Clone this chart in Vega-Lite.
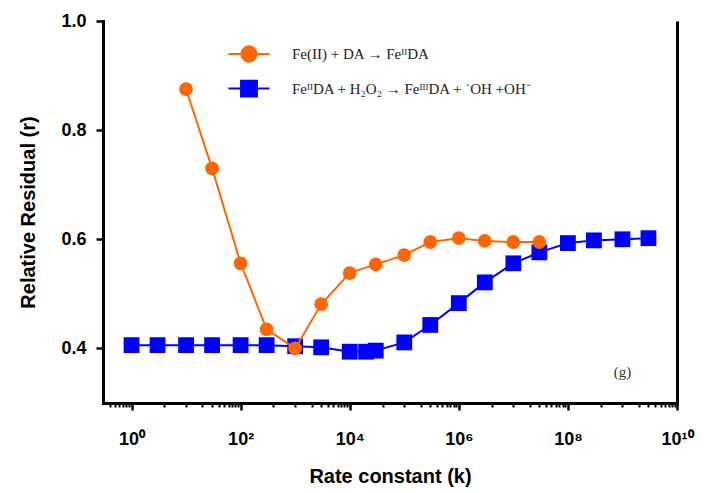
{
  "$schema": "https://vega.github.io/schema/vega-lite/v6.json",
  "width": 574,
  "height": 382,
  "autosize": {"type": "none"},
  "padding": {"left": 103, "top": 21, "right": 30, "bottom": 90},
  "background": "white",
  "config": {"view": {"stroke": null}, "axis": {"grid": false}},
  "data": {
    "values": [
      {"series": "Fe(II) + DA → FeᴵᴵDA", "k": 10, "r": 0.875},
      {"series": "Fe(II) + DA → FeᴵᴵDA", "k": 30, "r": 0.730},
      {"series": "Fe(II) + DA → FeᴵᴵDA", "k": 100, "r": 0.556},
      {"series": "Fe(II) + DA → FeᴵᴵDA", "k": 300, "r": 0.435},
      {"series": "Fe(II) + DA → FeᴵᴵDA", "k": 1000, "r": 0.400},
      {"series": "Fe(II) + DA → FeᴵᴵDA", "k": 3000, "r": 0.481},
      {"series": "Fe(II) + DA → FeᴵᴵDA", "k": 10000, "r": 0.538},
      {"series": "Fe(II) + DA → FeᴵᴵDA", "k": 30000, "r": 0.554},
      {"series": "Fe(II) + DA → FeᴵᴵDA", "k": 100000, "r": 0.571},
      {"series": "Fe(II) + DA → FeᴵᴵDA", "k": 300000, "r": 0.595},
      {"series": "Fe(II) + DA → FeᴵᴵDA", "k": 1000000, "r": 0.602},
      {"series": "Fe(II) + DA → FeᴵᴵDA", "k": 3000000, "r": 0.597},
      {"series": "Fe(II) + DA → FeᴵᴵDA", "k": 10000000, "r": 0.595},
      {"series": "Fe(II) + DA → FeᴵᴵDA", "k": 30000000, "r": 0.595},
      {"series": "FeᴵᴵDA + H₂O₂ → FeᴵᴵᴵDA + ˙OH +OH⁻", "k": 1, "r": 0.406},
      {"series": "FeᴵᴵDA + H₂O₂ → FeᴵᴵᴵDA + ˙OH +OH⁻", "k": 3, "r": 0.406},
      {"series": "FeᴵᴵDA + H₂O₂ → FeᴵᴵᴵDA + ˙OH +OH⁻", "k": 10, "r": 0.406},
      {"series": "FeᴵᴵDA + H₂O₂ → FeᴵᴵᴵDA + ˙OH +OH⁻", "k": 30, "r": 0.406},
      {"series": "FeᴵᴵDA + H₂O₂ → FeᴵᴵᴵDA + ˙OH +OH⁻", "k": 100, "r": 0.406},
      {"series": "FeᴵᴵDA + H₂O₂ → FeᴵᴵᴵDA + ˙OH +OH⁻", "k": 300, "r": 0.406},
      {"series": "FeᴵᴵDA + H₂O₂ → FeᴵᴵᴵDA + ˙OH +OH⁻", "k": 1000, "r": 0.404},
      {"series": "FeᴵᴵDA + H₂O₂ → FeᴵᴵᴵDA + ˙OH +OH⁻", "k": 3000, "r": 0.402},
      {"series": "FeᴵᴵDA + H₂O₂ → FeᴵᴵᴵDA + ˙OH +OH⁻", "k": 10000, "r": 0.394},
      {"series": "FeᴵᴵDA + H₂O₂ → FeᴵᴵᴵDA + ˙OH +OH⁻", "k": 20000, "r": 0.394},
      {"series": "FeᴵᴵDA + H₂O₂ → FeᴵᴵᴵDA + ˙OH +OH⁻", "k": 30000, "r": 0.396},
      {"series": "FeᴵᴵDA + H₂O₂ → FeᴵᴵᴵDA + ˙OH +OH⁻", "k": 100000, "r": 0.411},
      {"series": "FeᴵᴵDA + H₂O₂ → FeᴵᴵᴵDA + ˙OH +OH⁻", "k": 300000, "r": 0.443},
      {"series": "FeᴵᴵDA + H₂O₂ → FeᴵᴵᴵDA + ˙OH +OH⁻", "k": 1000000, "r": 0.483},
      {"series": "FeᴵᴵDA + H₂O₂ → FeᴵᴵᴵDA + ˙OH +OH⁻", "k": 3000000, "r": 0.521},
      {"series": "FeᴵᴵDA + H₂O₂ → FeᴵᴵᴵDA + ˙OH +OH⁻", "k": 10000000, "r": 0.556},
      {"series": "FeᴵᴵDA + H₂O₂ → FeᴵᴵᴵDA + ˙OH +OH⁻", "k": 30000000, "r": 0.576},
      {"series": "FeᴵᴵDA + H₂O₂ → FeᴵᴵᴵDA + ˙OH +OH⁻", "k": 100000000, "r": 0.593},
      {"series": "FeᴵᴵDA + H₂O₂ → FeᴵᴵᴵDA + ˙OH +OH⁻", "k": 300000000, "r": 0.598},
      {"series": "FeᴵᴵDA + H₂O₂ → FeᴵᴵᴵDA + ˙OH +OH⁻", "k": 1000000000, "r": 0.600},
      {"series": "FeᴵᴵDA + H₂O₂ → FeᴵᴵᴵDA + ˙OH +OH⁻", "k": 3000000000, "r": 0.602}
    ]
  },
  "encoding": {
    "x": {"field": "k", "type": "quantitative", "scale": {"type": "log", "domain": [0.3, 10000000000], "nice": false}, "axis": null},
    "y": {"field": "r", "type": "quantitative", "scale": {"domain": [0.3, 1.0], "nice": false, "zero": false}, "axis": null}
  },
  "resolve": {"axis": {"x": "independent", "y": "independent"}},
  "layer": [
    {
      "transform": [{"filter": "datum.series != 'Fe(II) + DA → FeᴵᴵDA'"}],
      "mark": {"type": "line", "color": "#0000FF", "strokeWidth": 2},
      "encoding": {
        "x": {"field": "k", "type": "quantitative", "scale": {"type": "log", "domain": [0.3, 10000000000], "nice": false},
          "axis": {"orient": "bottom", "values": [1, 100, 10000, 1000000, 100000000, 10000000000],
            "labelExpr": "'10' + ['⁰','¹','²','³','⁴','⁵','⁶','⁷','⁸','⁹','¹⁰'][round(log(datum.value)/LN10)]",
            "title": "Rate constant (k)", "domainWidth": 3, "domainColor": "black", "domainCap": "square",
            "tickColor": "black", "tickWidth": 2.5, "tickSize": 7,
            "labelFont": "Liberation Sans", "labelFontWeight": "bold", "labelFontSize": 18, "labelColor": "black", "labelPadding": 20, "labelFlush": false,
            "titleFont": "Liberation Sans", "titleFontWeight": "bold", "titleFontSize": 20, "titleColor": "black", "titlePadding": 18}},
        "y": {"field": "r", "type": "quantitative", "scale": {"domain": [0.3, 1.0], "nice": false, "zero": false},
          "axis": {"orient": "left", "values": [0.4, 0.6, 0.8, 1.0], "format": ".1f", "title": "Relative Residual (r)",
            "domainWidth": 3, "domainColor": "black", "domainCap": "square",
            "tickColor": "black", "tickWidth": 2.5, "tickSize": 7,
            "labelFont": "Liberation Sans", "labelFontWeight": "bold", "labelFontSize": 18, "labelColor": "black", "labelPadding": 10,
            "titleFont": "Liberation Sans", "titleFontWeight": "bold", "titleFontSize": 20, "titleColor": "black", "titlePadding": 22}}
      }
    },
    {
      "transform": [{"filter": "datum.series != 'Fe(II) + DA → FeᴵᴵDA'"}],
      "mark": {"type": "point", "shape": "square", "filled": true, "color": "#0000FF", "opacity": 1, "size": 250},
      "encoding": {
        "x": {"field": "k", "type": "quantitative", "scale": {"type": "log", "domain": [0.3, 10000000000], "nice": false},
          "axis": {"orient": "bottom", "values": [0.4, 0.5, 0.6, 0.7, 0.8, 0.9, 4, 10, 20, 30, 40, 50, 60, 70, 80, 90, 400, 1000, 2000, 3000, 4000, 5000, 6000, 7000, 8000, 9000, 40000, 100000, 200000, 300000, 400000, 500000, 600000, 700000, 800000, 900000, 4000000, 10000000, 20000000, 30000000, 40000000, 50000000, 60000000, 70000000, 80000000, 90000000, 400000000, 1000000000, 2000000000, 3000000000, 4000000000, 5000000000, 6000000000, 7000000000, 8000000000, 9000000000],
            "labels": false, "domain": false, "title": null, "tickColor": "black", "tickWidth": 2, "tickSize": 4}}
      }
    },
    {
      "transform": [{"filter": "datum.series == 'Fe(II) + DA → FeᴵᴵDA'"}],
      "mark": {"type": "line", "color": "#FF6600", "strokeWidth": 2},
      "encoding": {
        "y": {"field": "r", "type": "quantitative", "scale": {"domain": [0.3, 1.0], "nice": false, "zero": false},
          "axis": {"orient": "right", "labels": false, "ticks": false, "title": null, "domainWidth": 3, "domainColor": "black"}}
      }
    },
    {
      "transform": [{"filter": "datum.series == 'Fe(II) + DA → FeᴵᴵDA'"}],
      "mark": {"type": "point", "shape": "circle", "filled": true, "color": "#FF6600", "opacity": 1, "size": 190}
    },
    {
      "mark": {"type": "point", "filled": true, "opacity": 0, "strokeWidth": 2},
      "encoding": {
        "shape": {"field": "series", "type": "nominal",
          "scale": {"domain": ["Fe(II) + DA → FeᴵᴵDA", "FeᴵᴵDA + H₂O₂ → FeᴵᴵᴵDA + ˙OH +OH⁻"],
            "range": ["M-1.37,0L1.37,0M0.51,0A0.51,0.51,0,1,1,-0.51,0A0.51,0.51,0,1,1,0.51,0Z", "M-1.37,0L1.37,0M-0.53,-0.53L0.53,-0.53L0.53,0.53L-0.53,0.53Z"]},
          "legend": {"orient": "none", "legendX": 130, "legendY": 17, "title": null, "symbolSize": 900, "symbolStrokeWidth": 2, "symbolOpacity": 1,
            "labelFont": "Liberation Serif", "labelFontSize": 15, "labelColor": "#222", "labelOffset": 27, "rowPadding": 6.6, "padding": 0, "labelLimit": 500}},
        "color": {"field": "series", "type": "nominal",
          "scale": {"domain": ["Fe(II) + DA → FeᴵᴵDA", "FeᴵᴵDA + H₂O₂ → FeᴵᴵᴵDA + ˙OH +OH⁻"], "range": ["#FF6600", "#0000FF"]},
          "legend": {"orient": "none", "legendX": 130, "legendY": 17, "title": null, "symbolSize": 900, "symbolStrokeWidth": 2, "symbolOpacity": 1,
            "labelFont": "Liberation Serif", "labelFontSize": 15, "labelColor": "#222", "labelOffset": 27, "rowPadding": 6.6, "padding": 0, "labelLimit": 500}},
        "stroke": {"field": "series", "type": "nominal",
          "scale": {"domain": ["Fe(II) + DA → FeᴵᴵDA", "FeᴵᴵDA + H₂O₂ → FeᴵᴵᴵDA + ˙OH +OH⁻"], "range": ["#FF6600", "#0000FF"]},
          "legend": {"orient": "none", "legendX": 130, "legendY": 17, "title": null, "symbolSize": 900, "symbolStrokeWidth": 2, "symbolOpacity": 1,
            "labelFont": "Liberation Serif", "labelFontSize": 15, "labelColor": "#222", "labelOffset": 27, "rowPadding": 6.6, "padding": 0, "labelLimit": 500}}
      }
    },
    {
      "data": {"values": [{"k": 1000000000, "r": 0.356, "label": "(g)"}]},
      "mark": {"type": "text", "font": "Liberation Serif", "fontSize": 15, "color": "#333"},
      "encoding": {"text": {"field": "label"}}
    }
  ]
}
